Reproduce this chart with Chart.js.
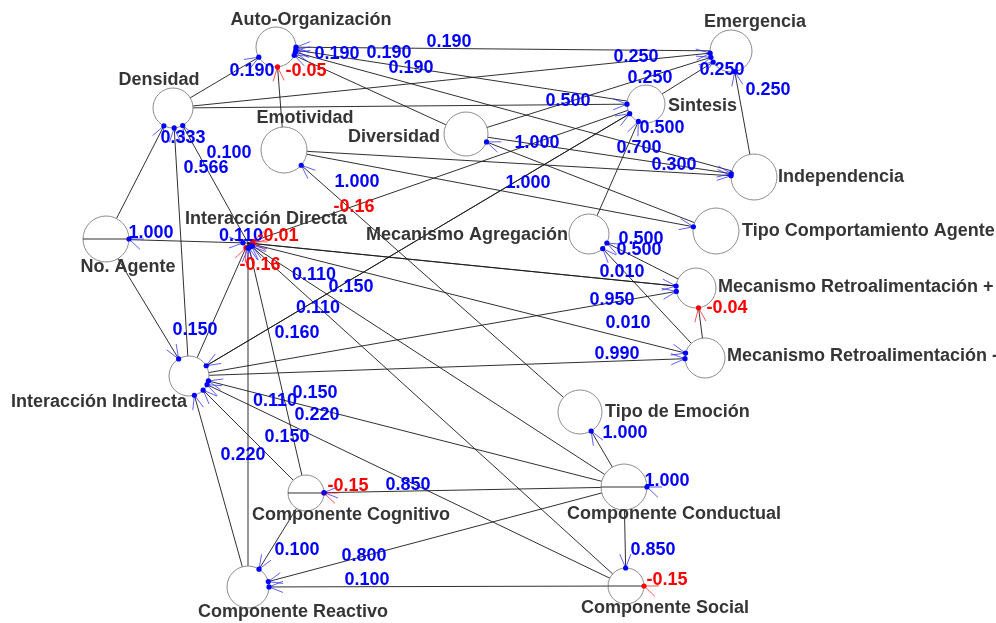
<!DOCTYPE html>
<html>
<head>
<meta charset="utf-8">
<script src="https://cdn.jsdelivr.net/npm/chart.js@4.4.1/dist/chart.umd.min.js"></script>
<style>
  html, body { margin: 0; padding: 0; background: #fff; overflow: hidden; }
  canvas { display: block; }
</style>
</head>
<body>
<canvas id="map" width="996" height="623"></canvas>
<script>
// concepts of the map and where the layout put them
const nodeNames = [
  'Auto-Organización', 'Emergencia', 'Densidad', 'Sintesis', 'Emotividad',
  'Diversidad', 'Independencia', 'No. Agente', 'Interacción Directa',
  'Mecanismo Agregación', 'Tipo Comportamiento Agente',
  'Mecanismo Retroalimentación +', 'Mecanismo Retroalimentación -',
  'Interacción Indirecta', 'Tipo de Emoción', 'Componente Cognitivo',
  'Componente Conductual', 'Componente Reactivo', 'Componente Social',
];
const nodeX = [276, 731, 173, 646, 284, 466, 754, 106, 248, 589, 716, 696, 705, 189, 580, 306, 624, 248, 626];
const nodeY = [47, 51, 108, 104, 150, 134, 177, 239, 243, 234, 231, 288, 358, 376, 412, 493, 487, 587, 586];

// causal links: [from, to, weight]  (from === to is a self link)
const edges = [
  [2, 0, 0.19], [4, 0, -0.05], [1, 0, 0.19], [3, 0, 0.19], [6, 0, 0.19], [5, 0, 0.19],
  [2, 1, 0.25], [5, 1, 0.25], [3, 1, 0.25], [6, 1, 0.25],
  [2, 3, 0.5], [9, 3, 0.5], [13, 3, 0.15],
  [4, 6, 0.3], [5, 6, 0.7],
  [10, 5, 1.0], [4, 10, 1.0], [14, 4, 1.0],
  [3, 8, -0.16],
  [7, 2, 0.333], [8, 2, 0.566], [13, 2, 0.1],
  [7, 7, 1.0], [7, 8, 0.11], [7, 13, 0.15],
  [13, 8, -0.16], [11, 8, -0.01],
  [8, 11, 0.01], [8, 12, 0.01], [13, 11, 0.95], [13, 12, 0.99], [12, 11, -0.04],
  [11, 9, 0.5], [12, 9, 0.5],
  [16, 8, 0.11], [18, 8, 0.11], [3, 13, 0.16],
  [15, 8, 0.11], [15, 13, 0.15], [17, 8, 0.22], [17, 13, 0.15], [16, 13, 0.22], [18, 13, 0.85],
  [15, 15, -0.15], [16, 15, 0.85],
  [16, 14, 1.0], [16, 16, 1.0], [16, 18, 0.85], [18, 18, -0.15],
  [15, 17, 0.1], [16, 17, 0.8], [18, 17, 0.1],
];

// where each weight is written (null: not written)
const edgeLabelAt = [
  [252, 71], [306, 71], [449, 42], [411, 68], [389, 53], [337, 54],
  [636, 57], [650, 78], [722, 70], [768, 90],
  [568, 101], [662, 128], [351, 287],
  [674, 165], [639, 148],
  [537, 143], [528, 183], [357, 182],
  [354, 207],
  [183, 138], [206, 168], [229, 153],
  [151, 233], [241, 236], [195, 330],
  [260, 265], [278, 236],
  [622, 272], [628, 323], [612, 300], [617, 354], [727, 308],
  [641, 239], [639, 250],
  [314, 275], [318, 308], [297, 333],
  [275, 401], [287, 437], [243, 455], [315, 393], [317, 415], [408, 485],
  [348, 486], null,
  [625, 433], [667, 481], [653, 550], [667, 580],
  [297, 550], [364, 556], [367, 580],
];

// drawing style
const nodeRadius = [20, 21, 20, 19, 23, 22, 23, 23, 5, 20, 23, 20, 20, 20, 22, 18, 23, 21, 18];
// [textAlign, dx, dy] relative to the node centre
const nodeLabelPlace = [
  ['center', 35, -27], ['center', 24, -29], ['center', -14, -28], ['left', 22, 2],
  ['center', 21, -32], ['right', -26, 3], ['left', 24, 0], ['center', 22, 28],
  ['center', 18, -24], ['right', -21, 1], ['left', 26, 0], ['left', 22, -1],
  ['left', 22, -2], ['right', -2, 26], ['left', 25, 0], ['center', 45, 22],
  ['center', 50, 27], ['center', 45, 25], ['center', 39, 22],
];
const EDGE_COLOR = 'rgba(25,25,25,0.9)';
const NODE_BORDER = '#8c8c8c';
const POS_COLOR = '#0000ff';
const NEG_COLOR = '#ff0000';
const FONT = 'bold 18px "Liberation Sans", Arial, sans-serif';

const fmtWeight = w => (w < 0 ? w.toFixed(2) : w.toFixed(3));

const nodeData = nodeX.map((x, i) => ({ x, y: nodeY[i] }));

const edgeSets = edges
  .filter(([f, t]) => f !== t)
  .map(([f, t]) => ({
    data: [nodeData[f], nodeData[t]],
    showLine: true,
    pointRadius: 0,
    pointHoverRadius: 0,
    borderColor: EDGE_COLOR,
    borderWidth: 1,
    order: 1,
    clip: false,
  }));

const nodeSet = {
  data: nodeData,
  pointRadius: nodeRadius,
  pointHoverRadius: nodeRadius,
  backgroundColor: nodeNames.map((_, i) => (i === 8 ? 'rgba(0,0,0,0)' : '#ffffff')),
  borderColor: nodeNames.map((_, i) => (i === 8 ? 'rgba(0,0,0,0)' : NODE_BORDER)),
  borderWidth: 1,
  order: 0,
  clip: false,
};

const graphDecor = {
  id: 'graphDecor',
  afterDatasetsDraw(chart) {
    const { ctx, scales: { x, y } } = chart;
    const px = i => x.getPixelForValue(nodeX[i]);
    const py = i => y.getPixelForValue(nodeY[i]);
    ctx.save();

    // self links show as a chord through the circle
    ctx.strokeStyle = EDGE_COLOR;
    ctx.lineWidth = 1;
    edges.forEach(([f, t]) => {
      if (f !== t) return;
      const r = nodeRadius[t];
      ctx.beginPath();
      ctx.moveTo(px(t) - r, py(t));
      ctx.lineTo(px(t) + r, py(t));
      ctx.stroke();
    });

    // arrow heads: a dot on the circle and two thin barbs
    edges.forEach(([f, t, w]) => {
      let ux, uy, tipX, tipY;
      if (f === t) {
        ux = -0.93; uy = -0.37;
        tipX = px(t) + nodeRadius[t];
        tipY = py(t);
      } else {
        const dx = px(t) - px(f), dy = py(t) - py(f);
        const len = Math.hypot(dx, dy);
        ux = dx / len; uy = dy / len;
        tipX = px(t) - ux * nodeRadius[t];
        tipY = py(t) - uy * nodeRadius[t];
      }
      const neg = w < 0;
      ctx.strokeStyle = neg ? 'rgba(255,40,40,0.8)' : 'rgba(40,40,255,0.75)';
      ctx.lineWidth = 1;
      for (const s of [-1, 1]) {
        const a = 0.38 * s;
        const vx = -ux, vy = -uy;
        const bx = vx * Math.cos(a) - vy * Math.sin(a);
        const by = vx * Math.sin(a) + vy * Math.cos(a);
        ctx.beginPath();
        ctx.moveTo(tipX, tipY);
        ctx.lineTo(tipX + bx * 15, tipY + by * 15);
        ctx.stroke();
      }
      ctx.fillStyle = neg ? NEG_COLOR : POS_COLOR;
      ctx.beginPath();
      ctx.arc(tipX, tipY, 2.6, 0, Math.PI * 2);
      ctx.fill();
    });

    // concept names
    ctx.font = FONT;
    ctx.textBaseline = 'middle';
    ctx.fillStyle = '#353535';
    nodeNames.forEach((name, i) => {
      const [align, dx, dy] = nodeLabelPlace[i];
      ctx.textAlign = align;
      ctx.fillText(name, px(i) + dx, py(i) + dy);
    });

    // weights
    ctx.textAlign = 'center';
    edges.forEach(([f, t, w], k) => {
      const at = edgeLabelAt[k];
      if (!at) return;
      ctx.fillStyle = w < 0 ? NEG_COLOR : POS_COLOR;
      ctx.fillText(fmtWeight(w), x.getPixelForValue(at[0]), y.getPixelForValue(at[1]));
    });

    ctx.restore();
  },
};

new Chart(document.getElementById('map').getContext('2d'), {
  type: 'scatter',
  data: { datasets: [nodeSet, ...edgeSets] },
  options: {
    responsive: false,
    animation: false,
    events: [],
    layout: { padding: 0, autoPadding: false },
    plugins: { legend: { display: false }, tooltip: { enabled: false } },
    scales: {
      x: { type: 'linear', min: 0, max: 996, display: false },
      y: { type: 'linear', min: 0, max: 623, reverse: true, display: false },
    },
  },
  plugins: [graphDecor],
});
</script>
</body>
</html>
